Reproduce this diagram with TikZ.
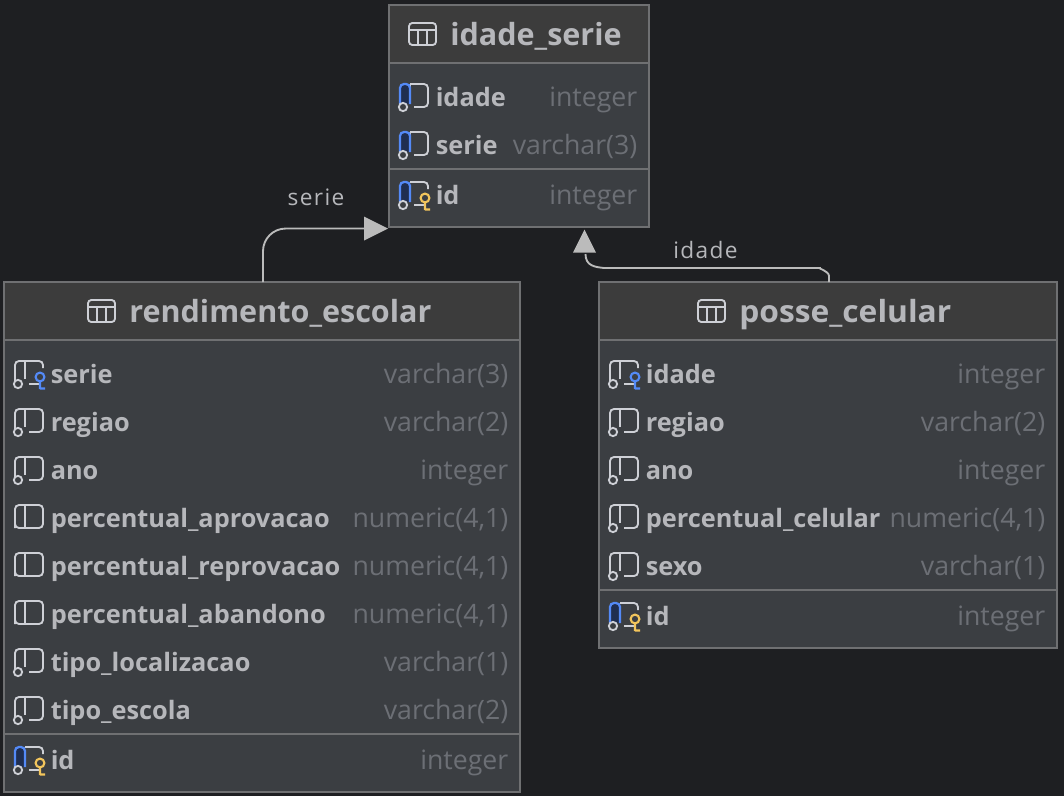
\documentclass[tikz,border=0pt]{standalone}
\usepackage{fontspec}
\usepackage{graphicx}
\setmainfont{Open Sans}
\usetikzlibrary{calc,arrows.meta}
\definecolor{bgc}{HTML}{1E1F22}
\definecolor{headc}{HTML}{3C3C3C}
\definecolor{bodyc}{HTML}{3B3E42}
\definecolor{borderc}{HTML}{6F7072}
\definecolor{namec}{HTML}{B6B7BB}
\definecolor{typec}{HTML}{6C6F75}
\definecolor{edgec}{HTML}{BBBBBB}
\definecolor{iconc}{HTML}{CED0D6}
\definecolor{blued}{HTML}{1F2E50}
\definecolor{blueb}{HTML}{548AF7}
\definecolor{goldk}{HTML}{F2C55C}
\tikzset{
  x=0.75pt,y=-0.75pt,
  tablebox/.style={fill=bodyc,inner sep=0pt,anchor=north west},
  titletext/.style={text=namec,font=\fontsize{22.9pt}{28pt}\selectfont\bfseries,anchor=base west,inner sep=0pt},
  nametext/.style={text=namec,font=\fontsize{19pt}{24pt}\selectfont\bfseries,anchor=base west,inner sep=0pt},
  typetext/.style={text=typec,font=\fontsize{20pt}{24pt}\selectfont,anchor=base east,inner sep=0pt},
  edgeline/.style={draw=edgec,line width=1.4pt},
  edgetext/.style={text=namec,font=\fontsize{17pt}{20pt}\selectfont\addfontfeature{LetterSpace=6},inner sep=0pt},
  iconline/.style={draw=iconc,line width=1.4pt},
  sepline/.style={draw=borderc,line width=1.2pt},
}
\newcommand{\tabframe}[8]{% name,x,y,w,h,headh,iconx offset,title
  \node[tablebox,minimum width=#4*0.75pt,minimum height=#5*0.75pt] (#1) at (#2,#3) {};
  \fill[headc] (#2,#3) rectangle ++(#4,#6);
  \draw[sepline] (#2,#3+#6) -- ++(#4,0);
  \draw[sepline] (#2,#3) rectangle ++(#4,#5);
  \begin{scope}[shift={(#2+#7,#3+18)}]
    \draw[iconline,rounded corners=2.5pt] (0,0) rectangle (27,22);
    \draw[iconline] (0,7) -- (27,7) (9,7) -- (9,22) (18,7) -- (18,22);
  \end{scope}
  \node[titletext] (#1title) at (#2+#7+41,#3+40.5) {#8};
}
% column icon parts
\newcommand{\icnbase}{%
  \draw[iconline,rounded corners=3pt] (10,-13) -- (28,-13) -- (28,10) -- (14,10);
  \draw[iconline] (10,-13) -- (10,5);
}
\newcommand{\icnkeybody}{%
  \draw[iconline,rounded corners=3pt] (10,-13) -- (28,-13) -- (28,-6);
  \draw[iconline] (14,10) -- (25,10);
}
\newcommand{\icnleft}[1]{%
  \draw[iconline,rounded corners=3pt] (10,-13) -- (0,-13) -- (0,#1);
}
\newcommand{\icnblue}{%
  \fill[blued,rounded corners=2pt] (0,-13) rectangle (10,7);
  \draw[draw=blueb,line width=1.7pt,rounded corners=3pt] (10,7) -- (10,-13) -- (0,-13) -- (0,7);
}
\newcommand{\icncircle}{\draw[iconline,fill=bodyc] (3,10) circle (3.1pt);}
\newcommand{\icnkey}[1]{%
  \draw[draw=#1,line width=1.6pt] (25,3) circle (3.3pt) (25,7.4) -- (25,15) (25,14.5) -- (30,14.5);
}
% kinds of column icon
\newcommand{\kindplain}{\icnbase\icnleft{10}\draw[iconline,rounded corners=3pt] (0,5) -- (0,10) -- (14,10);\draw[iconline] (10,5) -- (10,10);}
\newcommand{\kindnotnull}{\icnbase\icnleft{8}\icncircle}
\newcommand{\kindfk}{\icnkeybody\icnleft{8}\draw[iconline] (10,-13) -- (10,5);\icncircle\icnkey{blueb}}
\newcommand{\kindblue}{\icnbase\icnblue\icncircle}
\newcommand{\kindpk}{\icnkeybody\icnblue\icncircle\icnkey{goldk}}
% one column: name, table x, table right, y, label, type, kind
\newcommand{\tabcol}[7]{%
  \begin{scope}[shift={(#2+11,#4)}]#7\end{scope}
  \node[nametext] (#1n) at (#2+46.5,#4+9.5) {#5};
  \node[typetext] (#1t) at (#3-11.5,#4+9.5) {#6};
}
\begin{document}
\begin{tikzpicture}
\useasboundingbox (0,0) rectangle (1064,796);
\fill[bgc] (0,0) rectangle (1064,796);

% idade_serie
\tabframe{is}{389}{5}{260}{222}{58}{20}{idade\_serie}
\tabcol{isa}{389}{649}{97}{idade}{integer}{\kindblue}
\tabcol{isb}{389}{649}{145}{serie}{varchar(3)}{\kindblue}
\draw[sepline] (389,169) -- (649,169);
\tabcol{isc}{389}{649}{195}{id}{integer}{\kindpk}

% rendimento_escolar
\tabframe{re}{4}{282}{516}{510}{58}{84}{rendimento\_escolar}
\tabcol{rea}{4}{520}{374}{serie}{varchar(3)}{\kindfk}
\tabcol{reb}{4}{520}{422}{regiao}{varchar(2)}{\kindnotnull}
\tabcol{rec}{4}{520}{470}{ano}{integer}{\kindnotnull}
\tabcol{red}{4}{520}{518}{percentual\_aprovacao}{numeric(4,1)}{\kindplain}
\tabcol{ree}{4}{520}{566}{percentual\_reprovacao}{numeric(4,1)}{\kindplain}
\tabcol{ref}{4}{520}{614}{percentual\_abandono}{numeric(4,1)}{\kindplain}
\tabcol{reg}{4}{520}{662}{tipo\_localizacao}{varchar(1)}{\kindnotnull}
\tabcol{reh}{4}{520}{710}{tipo\_escola}{varchar(2)}{\kindnotnull}
\draw[sepline] (4,734) -- (520,734);
\tabcol{rei}{4}{520}{760}{id}{integer}{\kindpk}

% posse_celular
\tabframe{pc}{599}{282}{458}{366}{58}{99}{\scalebox{1.04}[1]{posse\_celular}}
\tabcol{pca}{599}{1057}{374}{idade}{integer}{\kindfk}
\tabcol{pcb}{599}{1057}{422}{regiao}{varchar(2)}{\kindnotnull}
\tabcol{pcc}{599}{1057}{470}{ano}{integer}{\kindnotnull}
\tabcol{pcd}{599}{1057}{518}{percentual\_celular}{numeric(4,1)}{\kindnotnull}
\tabcol{pce}{599}{1057}{566}{sexo}{varchar(1)}{\kindnotnull}
\draw[sepline] (599,590) -- (1057,590);
\tabcol{pcf}{599}{1057}{616}{id}{integer}{\kindpk}

% connectors
\coordinate (serieFrom) at ($(re.north west)+(259,0)$);
\coordinate (serieTip) at ($(is.south west)+(-1,1)$);
\coordinate (idadeFrom) at ($(pc.north west)+(230,0)$);
\coordinate (idadeTip) at ($(is.south west)+(195.5,2)$);
\draw[edgeline,rounded corners=17pt] (serieFrom) |- ($(serieTip)+(-20,0)$);
\fill[edgec] (serieTip) -- ++(-24,-12) -- ++(0,24) -- cycle;
\draw[edgeline] (idadeFrom) -- ++(0,-6) .. controls ++(0,-5) and ++(-3,0) .. ++(-9,-8)
  -- (604,268) .. controls (595,267) and (585.5,266) .. (585.5,254);
\fill[edgec] (idadeTip) -- ++(-11.5,23) -- ++(23,0) -- cycle;
\node[edgetext] (serieLabel) at (316,197) {serie};
\node[edgetext] (idadeLabel) at (705.5,250) {idade};
\end{tikzpicture}
\end{document}
